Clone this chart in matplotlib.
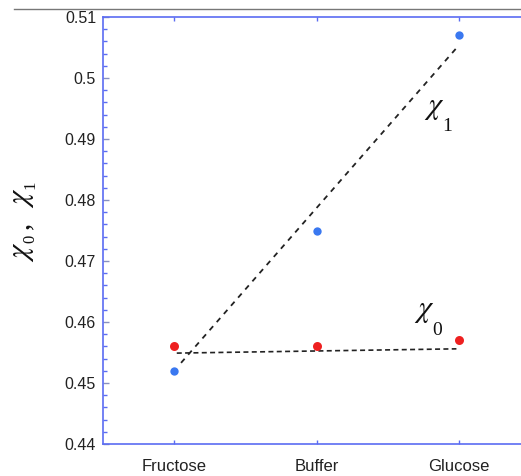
import matplotlib
matplotlib.use("Agg")
import matplotlib.pyplot as plt
from matplotlib.lines import Line2D
from matplotlib.ticker import MultipleLocator
from matplotlib.transforms import IdentityTransform

# Data
categories = ["Fructose", "Buffer", "Glucose"]
chi0 = [0.456, 0.456, 0.457]
chi1 = [0.452, 0.475, 0.507]

# Dashed trend lines (start/end points)
chi0_line_x = [1.02, 2.98]
chi0_line_y = [0.4549, 0.4556]
chi1_line_x = [1.05, 2.98]
chi1_line_y = [0.4533, 0.5049]

plt.rcParams["font.family"] = ["Liberation Sans", "DejaVu Sans"]
plt.rcParams["mathtext.fontset"] = "stix"

W, H = 521, 476
spine_col = "#5b6cf2"
serif = ["Liberation Serif", "DejaVu Serif"]
ink = "#111111"
CHI = r"$\chi$"

fig = plt.figure(figsize=(W / 100, H / 100), dpi=100)
ax = fig.add_axes([103 / W, 32 / H, 1 - 103 / W + 0.002, (444 - 17) / H])

x = list(range(1, len(categories) + 1))
ax.plot(chi1_line_x, chi1_line_y, ls=(0, (3, 3)), color="#222222", lw=1.3, zorder=2)
ax.plot(chi0_line_x, chi0_line_y, ls=(0, (3, 2)), color="#222222", lw=1.2, zorder=2)
ax.scatter(x, chi0, s=42, color="#ee2020", zorder=3, linewidths=0)
ax.scatter(x, chi1, s=36, color="#3a78f0", zorder=3, linewidths=0)

ax.set_xlim(0.503, 3.44)
ax.set_ylim(0.44, 0.51)
ax.set_xticks(x)
ax.set_xticklabels(categories, fontsize=12)
ax.yaxis.set_major_locator(MultipleLocator(0.01))
ax.yaxis.set_minor_locator(MultipleLocator(0.002))
ax.set_yticklabels([f"{v:g}" for v in ax.get_yticks()], fontsize=11.5)
ax.set_ylim(0.44, 0.51)

ax.tick_params(axis="y", which="major", direction="in", length=4, width=1,
               color="#8890c0", pad=5, labelcolor="#222222")
ax.tick_params(axis="y", which="minor", direction="in", length=3, width=1,
               color=spine_col)
ax.tick_params(axis="x", which="major", direction="in", length=3, width=1,
               color=spine_col, top=True, pad=11, labelcolor="#222222")

for side in ["left", "top", "bottom"]:
    ax.spines[side].set_color(spine_col)
    ax.spines[side].set_linewidth(1.2)
ax.spines["right"].set_visible(False)


def chi_label(xd, yd, sub, size=22, sub_size=14, dx=12.6, dy=-12.0):
    """Greek chi with a deep, offset subscript, anchored at a data point."""
    ax.annotate(CHI, (xd, yd), xycoords="data", fontsize=size, color=ink,
                ha="left", va="baseline")
    ax.annotate(sub, (xd, yd), xycoords="data", xytext=(dx, dy),
                textcoords="offset points", fontsize=sub_size, color=ink,
                family=serif, ha="left", va="baseline")


chi_label(2.755, 0.4941, "1")
chi_label(2.685, 0.4608, "0", dy=-13.0)

# rotated axis label built piece by piece (pixel positions, y from top)
def vpiece(s, px, py, size):
    fig.text(px, H - py, s, transform=IdentityTransform(), rotation=90,
             rotation_mode="anchor", ha="left", va="baseline",
             fontsize=size, color=ink, family=serif)


vpiece(CHI, 28, 262, 22)
vpiece("0", 34, 243, 12)
vpiece(",", 28, 229, 21)
vpiece(CHI, 28, 208, 22)
vpiece("1", 34, 189, 12)

# thin grey rule across the top
fig.add_artist(Line2D([14 / W, 1.0], [1 - 9 / H, 1 - 9 / H],
                      color="#777777", lw=1.0))

fig.savefig("out.png", dpi=100)
